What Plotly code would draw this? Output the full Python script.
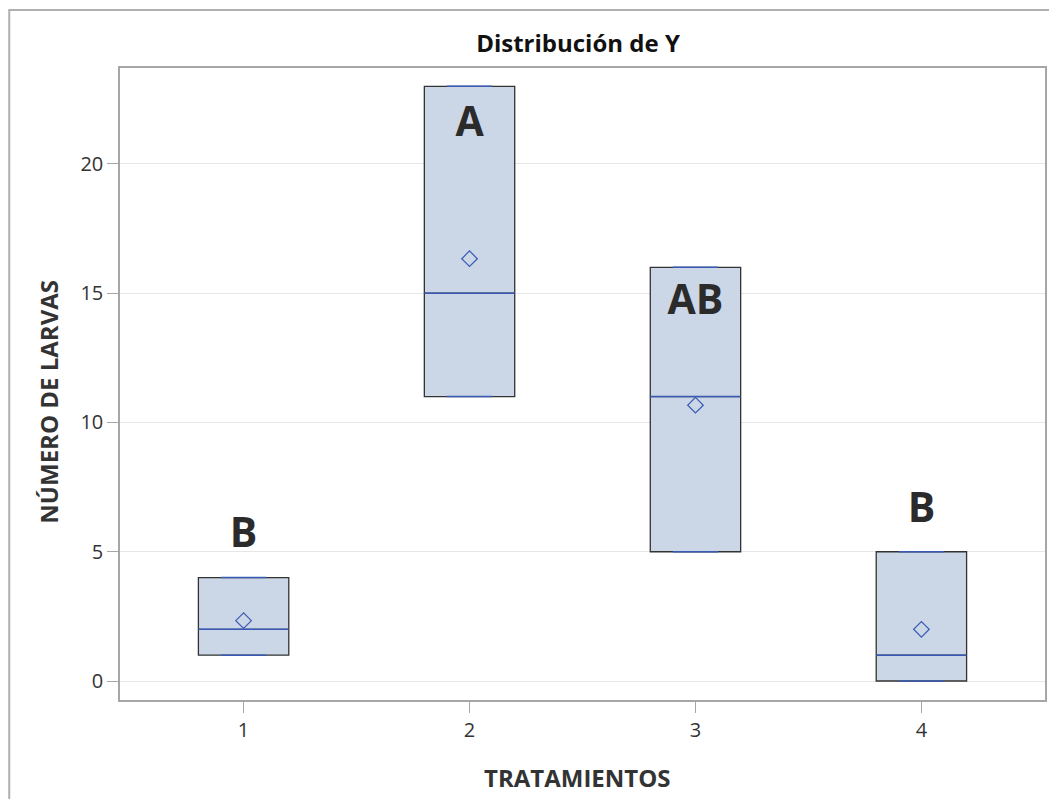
import plotly.graph_objects as go

# Data
tratamientos = [1, 2, 3, 4]
minimos = [1, 11, 5, 0]
medianas = [2, 15, 11, 1]
maximos = [4, 23, 16, 5]
medias = [2.333, 16.333, 10.667, 2.0]
letras = ["B", "A", "AB", "B"]
letra_y = [5.57, 21.47, 14.58, 6.54]

BOX_W = 0.4
FILL = "#CBD6E6"
EDGE = "#333333"
BLUE = "#3A5BB5"
FONT = "Open Sans"

W, H = 1041, 791
L, R, T, B = 112, 2, 60, 99
PW, PH = W - L - R, H - T - B

fig = go.Figure()

fig.add_trace(go.Box(
    x=tratamientos, q1=minimos, median=medianas, q3=maximos,
    lowerfence=minimos, upperfence=maximos,
    width=BOX_W, fillcolor=FILL, line=dict(color=EDGE, width=1.3),
    boxpoints=False, showlegend=False, hoverinfo="skip",
))

# median lines and caps in blue
mx, my = [], []
for x, m in zip(tratamientos, medianas):
    mx += [x - BOX_W / 2, x + BOX_W / 2, None]
    my += [m, m, None]
fig.add_trace(go.Scatter(x=mx, y=my, mode="lines", line=dict(color=BLUE, width=1.5),
                         showlegend=False, hoverinfo="skip"))
cx, cy = [], []
for x, lo, hi in zip(tratamientos, minimos, maximos):
    for v in (lo, hi):
        cx += [x - BOX_W / 4, x + BOX_W / 4, None]
        cy += [v, v, None]
fig.add_trace(go.Scatter(x=cx, y=cy, mode="lines", line=dict(color=BLUE, width=1.5),
                         showlegend=False, hoverinfo="skip"))

fig.add_trace(go.Scatter(x=tratamientos, y=medias, mode="markers",
                         marker=dict(symbol="diamond-open", size=12, color=BLUE, line=dict(width=1.2)),
                         showlegend=False, hoverinfo="skip"))

fig.add_trace(go.Scatter(x=tratamientos, y=letra_y, mode="text", text=letras,
                         textfont=dict(family=FONT, size=41, color="#2b2b2b", weight="bold"),
                         textposition="middle center", showlegend=False, hoverinfo="skip"))

axis_common = dict(zeroline=False, showline=True, linecolor="#A6A6A6", linewidth=1.5,
                   mirror=True, ticks="outside", ticklen=11, tickcolor="#A6A6A6",
                   tickfont=dict(family=FONT, size=20, color="#333333"))

fig.update_layout(
    width=W, height=H,
    margin=dict(l=L, r=R, t=T, b=B),
    paper_bgcolor="white", plot_bgcolor="white",
    font=dict(family=FONT, color="#333333"),
    title=dict(text="Distribución de Y", xref="container", x=570 / W, xanchor="center",
               yref="container", y=1 - 36 / H, yanchor="middle",
               font=dict(family=FONT, size=24, color="#111111", weight="bold")),
    xaxis=dict(range=[0.453, 4.547], tickvals=tratamientos, ticktext=[str(t) for t in tratamientos],
               showgrid=False, **axis_common),
    yaxis=dict(range=[-0.735, 23.71], tickvals=[0, 5, 10, 15, 20],
               showgrid=True, gridcolor="#E6E6E6", gridwidth=1, **axis_common),
    annotations=[
        dict(text="TRATAMIENTOS", xref="paper", yref="paper", x=(570 - L) / PW, y=-(769 - (T + PH)) / PH,
             xanchor="center", yanchor="middle", showarrow=False,
             font=dict(family=FONT, size=24, color="#333333", weight="bold")),
        dict(text="NÚMERO DE LARVAS", xref="paper", yref="paper", x=(40 - L) / PW,
             y=((T + PH) - 393.5) / PH, textangle=-90,
             xanchor="center", yanchor="middle", showarrow=False,
             font=dict(family=FONT, size=24, color="#333333", weight="bold")),
    ],
    shapes=[dict(type="rect", xref="paper", yref="paper", x0=(1 - L) / PW, x1=1.05,
                 y0=-0.3, y1=1 + (T - 2) / PH,
                 line=dict(color="#B0B0B0", width=2), fillcolor="rgba(0,0,0,0)", layer="below")],
)

fig.write_html("out.html")
